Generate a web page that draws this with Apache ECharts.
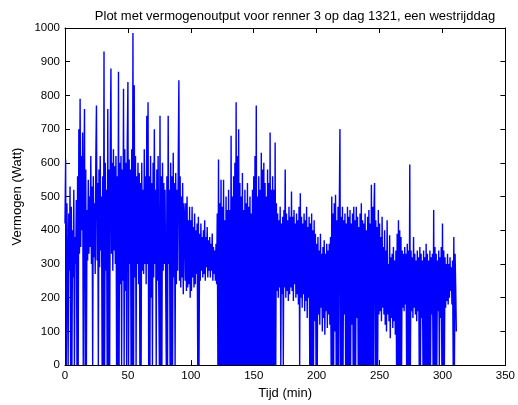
<!DOCTYPE html>
<html>
<head>
<meta charset="utf-8">
<script src="https://cdn.jsdelivr.net/npm/echarts@6/dist/echarts.min.js"></script>
<style>
html,body{margin:0;padding:0;background:#fff;}
#c{width:518px;height:405px;}
</style>
</head>
<body>
<div id="c"></div>
<script>
const chartTitle = 'Plot met vermogenoutput voor renner 3 op dag 1321, een westrijddag';
const xName = 'Tijd (min)';
const yName = 'Vermogen (Watt)';
const xTicks = [0, 50, 100, 150, 200, 250, 300, 350];
const yTicks = [0, 100, 200, 300, 400, 500, 600, 700, 800, 900, 1000];
const sampleStepMin = 0.5;

// power samples (W), one every 0.5 min
const power000 = [
  420, 610, 0, 480, 300, 0, 450, 280, 530, 0,
  470, 0, 400, 260, 520, 0, 380, 300, 490, 0,
  560, 0, 700, 330, 790, 350, 620, 400, 690, 0,
  520, 760, 0, 580, 0, 460, 310, 550, 330, 500,
  350, 620, 300, 530, 0, 560, 320, 480, 270, 610,
  770, 310, 540, 0, 580, 290, 620, 340, 500, 0,
  560, 0, 930, 0, 600, 280, 520, 0, 760, 0,
  580, 0, 650, 880, 330, 600, 280, 640, 340, 590,
  300, 620, 0, 560, 0, 870, 0, 600, 240, 620,
  0, 580, 250, 820, 0, 640, 220, 600, 0, 660
];
const power050 = [
  840, 0, 610, 300, 580, 0, 640, 0, 985, 0,
  830, 260, 620, 0, 560, 300, 600, 240, 570, 0,
  540, 0, 600, 280, 520, 270, 640, 300, 560, 240,
  740, 300, 780, 0, 560, 0, 620, 200, 540, 0,
  600, 260, 700, 300, 520, 0, 580, 250, 620, 230,
  0, 740, 0, 560, 0, 600, 280, 540, 300, 520,
  250, 0, 560, 0, 740, 300, 520, 0, 600, 0,
  560, 0, 630, 260, 540, 0, 570, 240, 520, 280,
  600, 845, 250, 560, 230, 500, 260, 540, 210, 480,
  440, 250, 480, 220, 500, 230, 430, 240, 470, 200
];
const power100 = [
  430, 220, 470, 260, 410, 230, 450, 240, 400, 270,
  420, 0, 440, 0, 390, 250, 420, 280, 380, 260,
  400, 270, 430, 250, 380, 290, 410, 260, 370, 280,
  380, 260, 360, 280, 390, 250, 350, 270, 340, 250,
  360, 240, 450, 0, 610, 0, 480, 0, 550, 0,
  470, 0, 550, 0, 430, 0, 500, 0, 460, 0,
  520, 0, 460, 0, 680, 0, 500, 0, 560, 0,
  600, 0, 780, 0, 620, 0, 700, 0, 540, 0,
  500, 0, 570, 0, 460, 0, 520, 0, 480, 0,
  540, 0, 470, 0, 500, 0, 450, 0, 520, 0
];
const power150 = [
  560, 0, 620, 0, 770, 0, 500, 0, 560, 0,
  520, 0, 630, 0, 580, 0, 600, 0, 540, 0,
  500, 0, 580, 0, 540, 0, 690, 0, 520, 0,
  560, 0, 520, 0, 660, 0, 480, 220, 450, 200,
  430, 230, 470, 0, 420, 210, 440, 0, 460, 230,
  580, 200, 450, 220, 430, 190, 470, 210, 440, 230,
  515, 220, 440, 190, 460, 240, 420, 200, 450, 210,
  430, 180, 470, 0, 510, 200, 440, 170, 420, 210,
  450, 160, 430, 190, 470, 140, 410, 200, 440, 0,
  420, 0, 450, 0, 400, 0, 430, 130, 390, 0
];
const power200 = [
  360, 0, 380, 150, 340, 120, 390, 170, 330, 100,
  350, 140, 370, 90, 330, 160, 360, 110, 340, 150,
  360, 120, 380, 0, 500, 0, 450, 0, 480, 100,
  505, 0, 430, 0, 470, 0, 460, 700, 0, 440,
  0, 470, 0, 430, 150, 450, 0, 420, 0, 470,
  0, 440, 0, 460, 0, 420, 120, 450, 0, 470,
  0, 430, 0, 470, 140, 440, 0, 410, 0, 450,
  0, 480, 0, 430, 0, 420, 0, 450, 0, 400,
  0, 440, 0, 460, 0, 420, 0, 535, 0, 470,
  0, 450, 540, 0, 430, 0, 410, 0, 460, 150
];
const power250 = [
  420, 160, 380, 130, 440, 170, 350, 150, 400, 120,
  340, 100, 430, 150, 300, 130, 385, 80, 320, 140,
  330, 110, 350, 130, 310, 90, 340, 0, 390, 0,
  430, 0, 400, 0, 380, 0, 340, 170, 330, 160,
  350, 180, 330, 0, 360, 0, 340, 0, 595, 0,
  340, 160, 320, 140, 380, 170, 330, 150, 310, 130,
  340, 160, 320, 0, 350, 0, 330, 140, 310, 0,
  340, 0, 320, 0, 360, 0, 330, 0, 310, 0,
  340, 0, 320, 150, 330, 0, 460, 0, 350, 0,
  330, 0, 310, 160, 340, 0, 320, 140, 350, 0
];
const power300 = [
  420, 0, 340, 0, 320, 170, 300, 190, 330, 180,
  300, 200, 320, 220, 290, 180, 310, 0, 380, 0,
  330, 230, 100
];

const allPower = [].concat(power000, power050, power100, power150, power200, power250, power300);
const seriesData = allPower.map((v, i) => [i * sampleStepMin, v]);

const font = 'Liberation Sans, Arial, sans-serif';
const chart = echarts.init(document.getElementById('c'), null, {renderer: 'canvas'});
function axisCommon() {
  return {
    axisLine: {show: true, onZero: false, lineStyle: {color: '#000', width: 1}},
    axisTick: {show: true, inside: true, length: 5, lineStyle: {color: '#000'}},
    splitLine: {show: false}
  };
}
chart.setOption({
  animation: false,
  backgroundColor: '#fff',
  title: {
    text: chartTitle,
    left: 290, top: 5, textAlign: 'center',
    textStyle: {fontFamily: font, fontSize: 13, fontWeight: 'normal', color: '#000'}
  },
  grid: {left: 65, right: 11, top: 28, bottom: 37, containLabel: false},
  xAxis: [
    Object.assign({
      type: 'value', min: xTicks[0], max: xTicks[xTicks.length - 1], interval: 50,
      position: 'bottom',
      name: xName, nameLocation: 'middle', nameGap: 21,
      nameTextStyle: {fontFamily: font, fontSize: 13, color: '#000'},
      axisLabel: {fontFamily: font, fontSize: 11.5, color: '#000', margin: 5}
    }, axisCommon()),
    Object.assign({
      type: 'value', min: xTicks[0], max: xTicks[xTicks.length - 1], interval: 50,
      position: 'top', axisLabel: {show: false}
    }, axisCommon())
  ],
  yAxis: [
    Object.assign({
      type: 'value', min: yTicks[0], max: yTicks[yTicks.length - 1], interval: 100,
      position: 'left',
      name: yName, nameLocation: 'middle', nameGap: 35,
      nameTextStyle: {fontFamily: font, fontSize: 13, color: '#000'},
      axisLabel: {fontFamily: font, fontSize: 11.5, color: '#000', margin: 5, formatter: v => String(v)}
    }, axisCommon()),
    Object.assign({
      type: 'value', min: yTicks[0], max: yTicks[yTicks.length - 1], interval: 100,
      position: 'right', axisLabel: {show: false}
    }, axisCommon())
  ],
  series: [{
    type: 'line',
    data: seriesData,
    xAxisIndex: 0, yAxisIndex: 0,
    showSymbol: false,
    sampling: null,
    lineStyle: {color: '#0000ff', width: 1.4},
    clip: true
  }]
});
</script>
</body>
</html>
